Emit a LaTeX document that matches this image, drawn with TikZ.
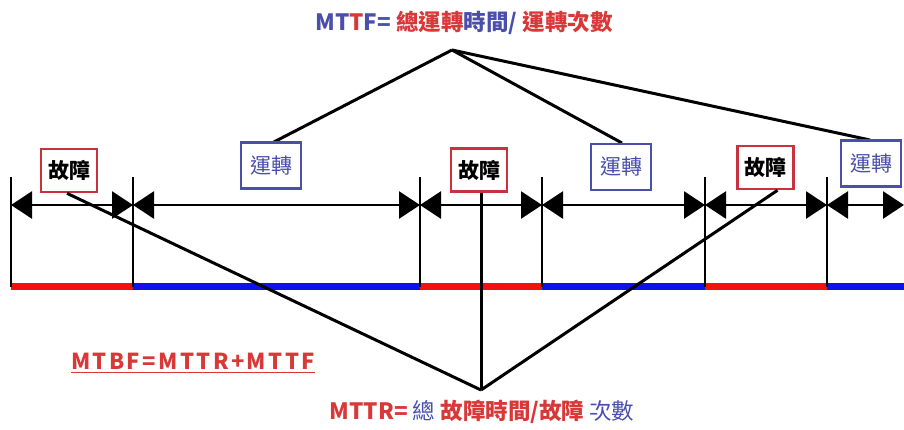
\documentclass[tikz,border=0pt]{standalone}
\usepackage{fontspec}
\setmainfont{Noto Sans CJK TC}
\newfontfamily\cjk{Noto Sans CJK TC}
\newfontfamily\cjkwide{Noto Sans CJK TC}[LetterSpace=11]
\usetikzlibrary{arrows.meta}
\definecolor{tred}{HTML}{D93838}
\definecolor{tblue}{HTML}{4A4FAA}
\definecolor{bred}{HTML}{C8323F}
\definecolor{bblue}{HTML}{4A4FAA}
\definecolor{barred}{HTML}{F21010}
\definecolor{barblue}{HTML}{1010E8}
\tikzset{
  fbox/.style={draw=bred, line width=2.6pt, fill=white, minimum width=56pt, minimum height=43pt, inner sep=0pt, font=\cjk\fontsize{21}{23}\selectfont\bfseries, text=black},
  rbox/.style={draw=bblue, line width=2.6pt, fill=white, minimum width=60pt, minimum height=46pt, inner sep=0pt, font=\cjk\fontsize{21}{23}\selectfont, text=tblue},
  tick/.style={line width=1.6pt},
  span/.style={line width=2.6pt, {Triangle[length=21pt, width=27pt]}-{Triangle[length=21pt, width=27pt]}},
  conn/.style={line width=3pt},
  bar/.style={line width=7pt},
  lbl/.style={inner sep=0pt, font=\cjk\fontsize{22.5}{25}\selectfont},
}
\begin{document}
\begin{tikzpicture}[x=1pt, y=-1pt]
\useasboundingbox (0,0) rectangle (904,429);
% tick positions
\foreach \n/\x in {0/11,1/133,2/420,3/542,4/705,5/827}{
  \coordinate (t\n) at (\x,177);
  \coordinate (b\n) at (\x,287);
}
\coordinate (end) at (904,205);
\coordinate (endb) at (904,286);
% colored bar
\draw[bar, barred] (11,286) -- (133,286);
\draw[bar, barblue] (133,286) -- (420,286);
\draw[bar, barred] (420,286) -- (542,286);
\draw[bar, barblue] (542,286) -- (705,286);
\draw[bar, barred] (705,286) -- (827,286);
\draw[bar, barblue] (827,286) -- (endb);
% ticks
\foreach \n in {0,...,5}{ \draw[tick] (t\n) -- (b\n); }
% span arrows
\draw[span] (t0 |- end) -- (t1 |- end);
\draw[span] (t1 |- end) -- (t2 |- end);
\draw[span] (t2 |- end) -- (t3 |- end);
\draw[span] (t3 |- end) -- (t4 |- end);
\draw[span] (t4 |- end) -- (t5 |- end);
\draw[span] (t5 |- end) -- (end);
% apexes
\coordinate (mttfapex) at (452,50);
\coordinate (mttrapex) at (481,390);
% connectors (drawn before boxes so boxes cover ends)
\draw[conn] (mttfapex) -- (270,144);
\draw[conn] (mttfapex) -- (622,143);
\draw[conn] (mttfapex) -- (870,140);
% boxes
\node[fbox] (f1) at (69,170.5) {故障};
\node[rbox] (r1) at (271,165.5) {運轉};
\node[fbox] (f2) at (479,170) {故障};
\node[rbox] (r2) at (621,167) {運轉};
\node[fbox] (f3) at (765.5,167.5) {故障};
\node[rbox] (r3) at (871,163.5) {運轉};
\draw[conn] ([xshift=-2pt]f1.south) -- (mttrapex);
\draw[conn] (f2.south -| mttrapex) -- (mttrapex);
\draw[conn] ([xshift=12pt]f3.south) -- (mttrapex);
% texts
\node[lbl, font=\cjk\fontsize{22.5}{25}\selectfont\bfseries] (mttf) at (464,23) {\textcolor{tblue}{MT}\textcolor{tred}{T}\textcolor{tblue}{F=} \textcolor{tred}{總運轉}\textcolor{tblue}{時間/} \textcolor{tred}{運轉次數}};
\node[lbl] (mttr) at (482,412) {\textcolor{tred}{\bfseries MTTR=} \textcolor{tblue}{總} \textcolor{tred}{\bfseries 故障時間/故障} \textcolor{tblue}{次數}};
\node[lbl, text=tred, font=\cjkwide\fontsize{22}{24}\selectfont\bfseries] (mtbf) at (193,361) {MTBF=MTTR+MTTF};
\draw[tred, line width=1.3pt] ([yshift=-3pt]mtbf.south west) -- ([yshift=-3pt]mtbf.south east);
\end{tikzpicture}
\end{document}
